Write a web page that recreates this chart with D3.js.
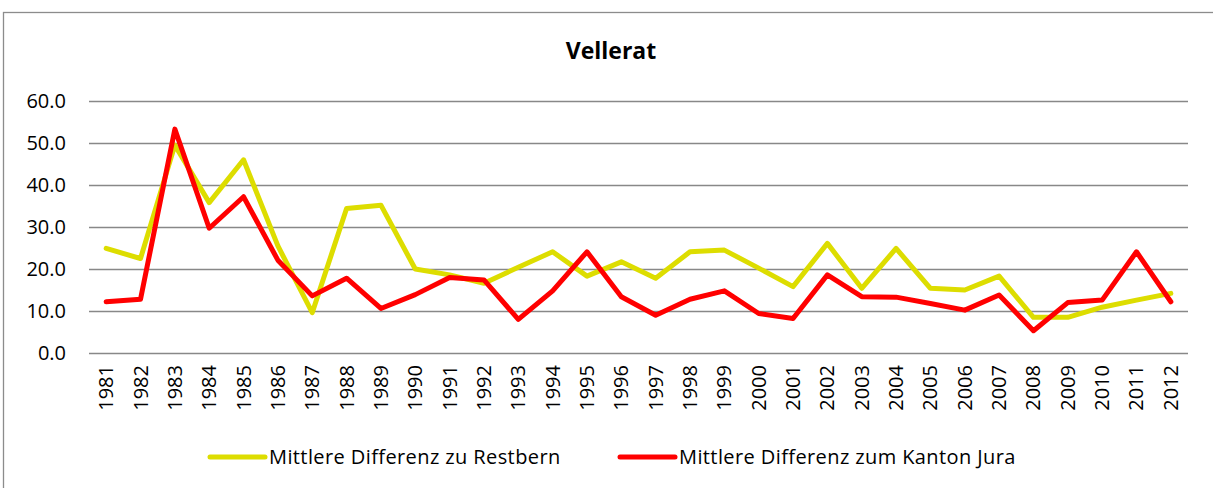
<!DOCTYPE html>
<html><head><meta charset="utf-8">
<script src="https://cdn.jsdelivr.net/npm/d3@7"></script>
<style>body{margin:0;background:#fff}svg{display:block}</style>
</head><body>
<svg id="c" width="1213" height="488"></svg>
<script>
const years = ["1981","1982","1983","1984","1985","1986","1987","1988","1989","1990","1991","1992","1993","1994","1995","1996","1997","1998","1999","2000","2001","2002","2003","2004","2005","2006","2007","2008","2009","2010","2011","2012"];
const restbern = [24.9,22.5,49.5,35.8,46.0,25.5,9.6,34.4,35.2,20.0,18.6,16.6,20.4,24.1,18.3,21.7,17.8,24.1,24.5,20.2,15.8,26.1,15.4,24.9,15.4,15.0,18.3,8.5,8.5,10.9,12.6,14.2];
const jura = [12.2,12.8,53.3,29.7,37.2,22.1,13.6,17.8,10.6,13.9,18.0,17.4,8.0,14.8,24.1,13.4,9.0,12.8,14.8,9.4,8.2,18.6,13.4,13.3,11.8,10.2,13.8,5.3,12.0,12.6,24.1,12.2];
const yTicks = [0,10,20,30,40,50,60];
const seriesNames = ["Mittlere Differenz zu Restbern","Mittlere Differenz zum Kanton Jura"];
const colors = ["#DDDD00","#FF0000"];
const title = "Vellerat";

const svg = d3.select("#c");
const font = "'Open Sans', sans-serif";
svg.append("rect").attr("x",3.5).attr("y",12.5).attr("width",1230).attr("height",500)
  .attr("fill","#fff").attr("stroke","#8c8c8c").attr("stroke-width",1.3);

const x = d3.scaleBand().domain(years).range([89,1188]);
const y = d3.scaleLinear().domain([0,60]).range([353,101]);

svg.append("text").attr("x",611).attr("y",59).attr("text-anchor","middle")
  .attr("font-family",font).attr("font-weight","bold").attr("font-size",23).text(title);

const ga = svg.append("g").attr("transform","translate(89,0)")
  .call(d3.axisLeft(y).tickValues(yTicks).tickSize(-1099).tickFormat(d3.format(".1f")));
ga.select(".domain").remove();
ga.selectAll(".tick line").attr("stroke","#888").attr("stroke-width",1.5);
ga.selectAll(".tick text").attr("x",-23).attr("font-family",font).attr("font-size",20).attr("fill","#000");

const gx = svg.append("g").attr("transform","translate(0,353)")
  .call(d3.axisBottom(x).tickSize(0));
gx.select(".domain").remove();
gx.selectAll(".tick text").attr("transform","rotate(-90)").attr("text-anchor","end")
  .attr("x",-12).attr("y",0).attr("dy","0.35em")
  .attr("font-family",font).attr("font-size",20).attr("fill","#000");

const line = d3.line().x((d,i)=>x(years[i])+x.bandwidth()/2).y(d=>y(d));
[restbern,jura].forEach((s,k)=>{
  svg.append("path").datum(s).attr("d",line).attr("fill","none")
    .attr("stroke",colors[k]).attr("stroke-width",5).attr("stroke-linejoin","round").attr("stroke-linecap","round");
});

const legX = [210,620];
seriesNames.forEach((n,k)=>{
  svg.append("line").attr("x1",legX[k]).attr("x2",legX[k]+55).attr("y1",457).attr("y2",457)
    .attr("stroke",colors[k]).attr("stroke-width",5).attr("stroke-linecap","round");
  svg.append("text").attr("x",legX[k]+59).attr("y",457).attr("dy","0.35em")
    .attr("font-family",font).attr("font-size",20).attr("letter-spacing",0.4).text(n);
});
</script>
</body></html>
